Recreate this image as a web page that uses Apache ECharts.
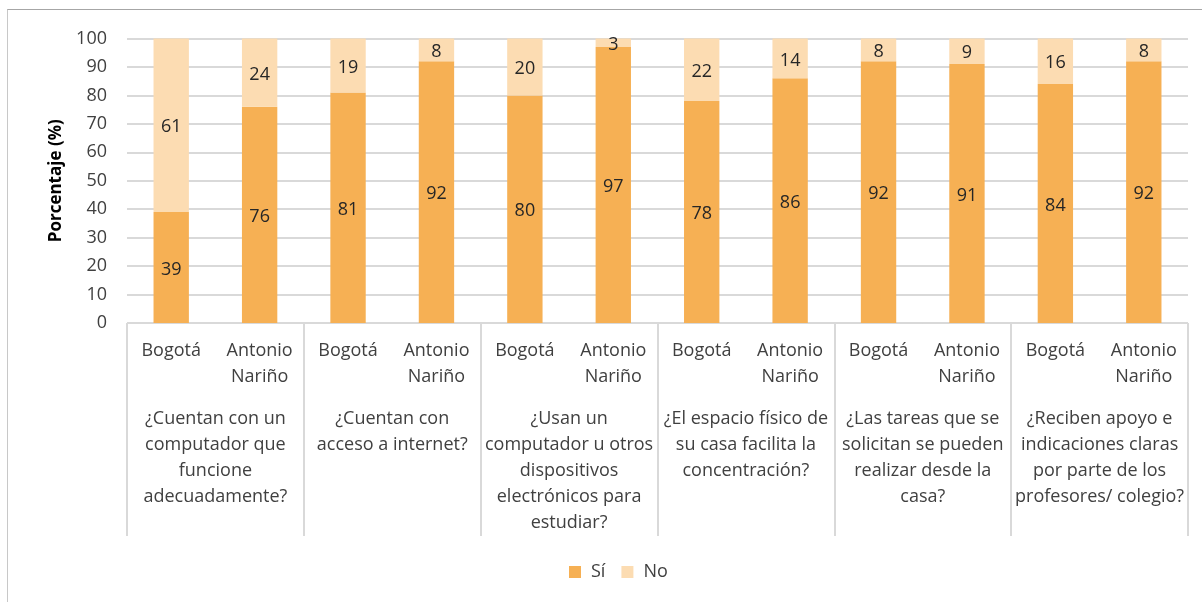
<!DOCTYPE html>
<html>
<head>
<meta charset="utf-8">
<script src="https://cdn.jsdelivr.net/npm/echarts@6/dist/echarts.min.js"></script>
<style>
html,body{margin:0;padding:0;background:#fff;}
#wrap{position:relative;width:1202px;height:602px;overflow:hidden;}
#frame{position:absolute;left:7px;top:9px;width:1300px;height:700px;border-top:1px solid #a6a6a6;border-left:1px solid #c8c8c8;}
#chart{position:absolute;left:0;top:0;width:1202px;height:602px;}
</style>
</head>
<body>
<div id="wrap"><div id="frame"></div><div id="chart"></div></div>
<script>
const subCategories = ["Bogotá","Antonio\nNariño","Bogotá","Antonio\nNariño","Bogotá","Antonio\nNariño","Bogotá","Antonio\nNariño","Bogotá","Antonio\nNariño","Bogotá","Antonio\nNariño"];
const groupCategories = [
  "¿Cuentan con un\ncomputador que\nfuncione\nadecuadamente?",
  "¿Cuentan con\nacceso a internet?",
  "¿Usan un\ncomputador u otros\ndispositivos\nelectrónicos para\nestudiar?",
  "¿El espacio físico de\nsu casa facilita la\nconcentración?",
  "¿Las tareas que se\nsolicitan se pueden\nrealizar desde la\ncasa?",
  "¿Reciben apoyo e\nindicaciones claras\npor parte de los\nprofesores/ colegio?"
];
const siValues = [39,76,81,92,80,97,78,86,92,91,84,92];
const noValues = [61,24,19,8,20,3,22,14,8,9,16,8];
const yTicks = {min:0, max:100, interval:10};

const font = "'Open Sans', sans-serif";
const txt = '#404040';
const chart = echarts.init(document.getElementById('chart'));
chart.setOption({
  animation:false,
  textStyle:{fontFamily:font},
  grid:{left:127, right:14, top:38.5, bottom:279, containLabel:false},
  legend:{
    bottom:16, left:564, itemWidth:12, itemHeight:12, itemGap:16,
    icon:'rect',
    textStyle:{fontFamily:font, fontSize:18, color:txt, padding:[0,0,0,5]},
    data:['Sí','No']
  },
  xAxis:[
    {
      type:'category', data:subCategories, position:'bottom',
      axisLine:{show:true, lineStyle:{color:'#d9d9d9', width:1}},
      axisTick:{show:false},
      axisLabel:{interval:0, margin:15, fontFamily:font, fontSize:18, color:txt, lineHeight:26}
    },
    {
      type:'category', data:groupCategories, position:'bottom', offset:0,
      axisLine:{show:false},
      axisTick:{show:true, length:213, interval:0, lineStyle:{color:'#d9d9d9', width:2}},
      axisLabel:{interval:0, margin:83, fontFamily:font, fontSize:18, color:txt, lineHeight:26}
    }
  ],
  yAxis:{
    type:'value', min:yTicks.min, max:yTicks.max, interval:yTicks.interval,
    name:'Porcentaje (%)', nameLocation:'middle', nameGap:62,
    nameTextStyle:{fontFamily:font, fontSize:17, fontWeight:'bold', color:'#000'},
    axisLine:{show:false}, axisTick:{show:false},
    axisLabel:{margin:20, fontFamily:font, fontSize:18, color:txt},
    splitLine:{lineStyle:{color:'#d9d9d9', width:2}}
  },
  series:[
    {
      name:'Sí', type:'bar', stack:'t', data:siValues, barWidth:'40%', xAxisIndex:0,
      itemStyle:{color:'#F6B054'},
      label:{show:true, position:'inside', offset:[0,2], fontFamily:font, fontSize:18, color:'#262626'}
    },
    {
      name:'No', type:'bar', stack:'t', data:noValues, barWidth:'40%', xAxisIndex:0,
      itemStyle:{color:'#FCDCB2'},
      label:{show:true, position:'inside', offset:[0,2], fontFamily:font, fontSize:18, color:'#262626'}
    }
  ]
});
</script>
</body>
</html>
